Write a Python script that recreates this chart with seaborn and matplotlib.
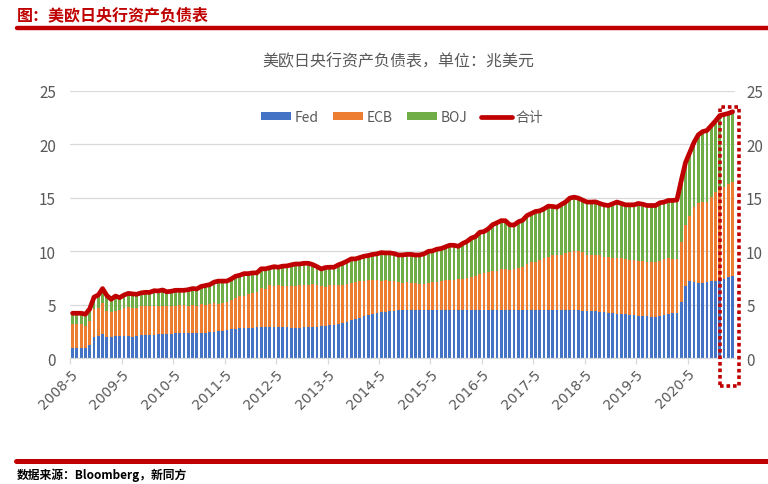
import matplotlib
matplotlib.use("Agg")
import matplotlib.pyplot as plt
import matplotlib.transforms as mtransforms
from matplotlib.patches import Patch, Rectangle
from matplotlib.lines import Line2D
import numpy as np
import pandas as pd
import seaborn as sns

# ---------------- data (USD trillion), monthly 2008-5 .. 2021-3 ----------------
fed = [
    0.95, 0.95, 0.95, 0.93, 1.25, 2.00, 2.10, 2.25, 1.95, 1.93, 2.05, 2.08,
    2.08, 2.05, 2.00, 2.07, 2.12, 2.15, 2.18, 2.20, 2.22, 2.24, 2.26, 2.28,
    2.30, 2.31, 2.32, 2.33, 2.33, 2.33, 2.35, 2.38, 2.40, 2.45, 2.50, 2.55,
    2.62, 2.70, 2.76, 2.82, 2.85, 2.85, 2.85, 2.87, 2.90, 2.90, 2.90, 2.88,
    2.88, 2.87, 2.87, 2.85, 2.85, 2.85, 2.86, 2.88, 2.90, 2.93, 2.97, 3.00,
    3.05, 3.12, 3.19, 3.28, 3.40, 3.52, 3.66, 3.78, 3.90, 4.01, 4.12, 4.20,
    4.28, 4.33, 4.37, 4.42, 4.45, 4.48, 4.50, 4.50, 4.49, 4.50, 4.50, 4.51,
    4.50, 4.49, 4.50, 4.51, 4.50, 4.49, 4.49, 4.50, 4.51, 4.50, 4.50, 4.49,
    4.50, 4.50, 4.51, 4.50, 4.49, 4.50, 4.50, 4.51, 4.50, 4.50, 4.49, 4.50,
    4.50, 4.50, 4.50, 4.50, 4.50, 4.50, 4.49, 4.49, 4.48, 4.47, 4.46, 4.44,
    4.40, 4.38, 4.36, 4.33, 4.28, 4.24, 4.20, 4.16, 4.12, 4.09, 4.06, 4.02,
    3.97, 3.93, 3.90, 3.85, 3.81, 3.90, 4.03, 4.10, 4.19, 4.22, 5.28, 6.70,
    7.19, 7.10, 7.00, 7.03, 7.15, 7.25, 7.25, 7.30, 7.40, 7.56, 7.72,
]
ecb = [
    2.24, 2.24, 2.22, 2.10, 2.19, 2.60, 2.55, 2.90, 2.43, 2.35, 2.39, 2.42,
    2.57, 2.75, 2.70, 2.63, 2.75, 2.70, 2.67, 2.70, 2.68, 2.66, 2.59, 2.57,
    2.60, 2.66, 2.65, 2.57, 2.67, 2.57, 2.68, 2.62, 2.66, 2.70, 2.56, 2.60,
    2.58, 2.77, 2.89, 2.96, 2.99, 3.15, 3.25, 3.28, 3.63, 3.57, 3.94, 3.90,
    3.96, 3.83, 3.85, 3.93, 3.93, 3.95, 3.98, 3.99, 4.04, 3.92, 3.75, 3.62,
    3.79, 3.68, 3.68, 3.59, 3.57, 3.51, 3.44, 3.41, 3.35, 3.27, 3.19, 3.14,
    2.97, 2.95, 2.88, 2.77, 2.65, 2.55, 2.60, 2.53, 2.53, 2.44, 2.41, 2.50,
    2.60, 2.66, 2.75, 2.78, 2.81, 2.81, 2.90, 2.90, 3.00, 3.10, 3.22, 3.38,
    3.44, 3.53, 3.60, 3.69, 3.80, 3.80, 3.78, 3.82, 3.94, 4.00, 4.30, 4.47,
    4.53, 4.69, 4.84, 5.00, 5.10, 5.10, 5.20, 5.32, 5.49, 5.53, 5.54, 5.46,
    5.29, 5.28, 5.30, 5.27, 5.22, 5.20, 5.17, 5.21, 5.25, 5.19, 5.16, 5.17,
    5.15, 5.19, 5.13, 5.12, 5.16, 5.22, 5.25, 5.27, 5.09, 5.06, 5.62, 5.77,
    6.11, 7.00, 7.50, 7.62, 7.50, 7.81, 8.25, 8.54, 8.60, 8.74, 8.78,
]
boj = [
    1.00, 1.00, 1.02, 1.07, 1.16, 1.10, 1.25, 1.35, 1.47, 1.22, 1.36, 1.15,
    1.25, 1.25, 1.30, 1.27, 1.23, 1.30, 1.30, 1.40, 1.38, 1.47, 1.35, 1.40,
    1.44, 1.37, 1.37, 1.50, 1.50, 1.57, 1.67, 1.78, 1.81, 1.95, 2.14, 2.05,
    2.00, 1.93, 2.00, 1.97, 2.06, 1.90, 1.87, 1.82, 1.82, 1.88, 1.61, 1.77,
    1.66, 1.90, 1.90, 1.94, 2.02, 2.00, 2.03, 2.00, 1.81, 1.71, 1.62, 1.85,
    1.66, 1.70, 1.85, 2.00, 2.09, 2.25, 2.18, 2.21, 2.28, 2.32, 2.39, 2.41,
    2.62, 2.56, 2.59, 2.59, 2.55, 2.62, 2.60, 2.67, 2.62, 2.71, 2.84, 2.97,
    2.93, 3.04, 3.00, 3.12, 3.25, 3.25, 3.07, 3.32, 3.40, 3.62, 3.65, 3.90,
    3.90, 4.07, 4.37, 4.47, 4.57, 4.55, 4.19, 4.12, 4.31, 4.40, 4.54, 4.56,
    4.69, 4.59, 4.63, 4.72, 4.59, 4.52, 4.68, 4.79, 5.00, 5.06, 4.97, 4.88,
    4.91, 4.94, 4.96, 4.87, 4.84, 4.84, 5.07, 5.23, 5.10, 5.06, 5.12, 5.15,
    5.35, 5.28, 5.25, 5.31, 5.31, 5.41, 5.32, 5.38, 5.47, 5.52, 5.70, 5.83,
    5.96, 6.10, 6.40, 6.55, 6.65, 6.69, 6.70, 6.86, 6.80, 6.60, 6.56,
]
tick_labels = ["2008-5", "2009-5", "2010-5", "2011-5", "2012-5", "2013-5", "2014-5",
               "2015-5", "2016-5", "2017-5", "2018-5", "2019-5", "2020-5"]
series_names = ["Fed", "ECB", "BOJ", "合计"]

# ---------------- styling ----------------
C_FED, C_ECB, C_BOJ, C_TOT = "#4472C4", "#ED7D31", "#70AD47", "#C00000"
GRAY = "#595959"
GRID = "#D9D9D9"

sns.set_theme(style="white")
plt.rcParams["font.family"] = ["Noto Sans CJK SC", "DejaVu Sans"]
plt.rcParams["axes.unicode_minus"] = False

n = len(fed)
idx = np.arange(n)
df = pd.DataFrame({"idx": idx, "Fed": fed, "ECB": ecb, "BOJ": boj})
df["s_fe"] = df["Fed"] + df["ECB"]
df["total"] = df["s_fe"] + df["BOJ"]

W, H = 768, 485
fig = plt.figure(figsize=(W / 100, H / 100), dpi=100)
ax = fig.add_axes([70 / W, 1 - 359 / H, (735 - 70) / W, (359 - 92) / H])

bw = 0.64
sns.barplot(data=df, x="idx", y="total", color=C_BOJ, saturation=1, width=bw,
            errorbar=None, linewidth=0, ax=ax)
sns.barplot(data=df, x="idx", y="s_fe", color=C_ECB, saturation=1, width=bw,
            errorbar=None, linewidth=0, ax=ax)
sns.barplot(data=df, x="idx", y="Fed", color=C_FED, saturation=1, width=bw,
            errorbar=None, linewidth=0, ax=ax)
sns.lineplot(data=df, x="idx", y="total", color=C_TOT, linewidth=3.4,
             ax=ax, zorder=5, solid_capstyle="round")

ax.set_xlim(-0.6, n - 0.45)
ax.set_ylim(0, 25)
yt = [0, 5, 10, 15, 20, 25]
ax.set_yticks(yt)
ax.set_yticklabels([str(v) for v in yt])
ax.set_axisbelow(True)
ax.yaxis.grid(True, color=GRID, linewidth=0.9)
ax.xaxis.grid(False)
for s in ["top", "right", "left"]:
    ax.spines[s].set_visible(False)
ax.spines["bottom"].set_color(GRID)
ax.spines["bottom"].set_linewidth(0.9)
ax.set_xlabel("")
ax.set_ylabel("")

ticks = [i * 12 - 0.5 for i in range(len(tick_labels))]
ax.set_xticks(ticks)
ax.set_xticklabels(tick_labels, rotation=45, ha="right", va="top",
                   rotation_mode="anchor", color=GRAY, fontsize=10,
                   family=["DejaVu Sans"])
offset = mtransforms.ScaledTranslation(4 / 100, -2 / 100, fig.dpi_scale_trans)
for lab in ax.get_xticklabels():
    lab.set_transform(lab.get_transform() + offset)
ax.tick_params(axis="x", bottom=True, length=4, width=0.9, color=GRID, pad=2)
ax.tick_params(axis="y", left=False, right=False, length=0, labelleft=True,
               labelright=False, labelsize=11, labelcolor=GRAY, pad=10)

# right-hand axis labels (same scale)
ax2 = ax.twinx()
ax2.set_ylim(ax.get_ylim())
ax2.set_yticks(yt)
ax2.set_yticklabels([str(v) for v in yt])
ax2.tick_params(axis="y", right=False, length=0, labelsize=11, labelcolor=GRAY, pad=8)
for s in ["top", "right", "left", "bottom"]:
    ax2.spines[s].set_visible(False)
ax2.grid(False)

# highlight box around the latest months
ax.add_patch(Rectangle((151.0, -2.6), 4.5, 26.1, fill=False, edgecolor=C_TOT,
                       linewidth=2.6, linestyle=(0, (1, 0.8)), clip_on=False, zorder=6))

# legend
handles = [Patch(facecolor=C_FED, edgecolor="none"),
           Patch(facecolor=C_ECB, edgecolor="none"),
           Patch(facecolor=C_BOJ, edgecolor="none"),
           Line2D([0], [0], color=C_TOT, linewidth=3.4)]
leg = fig.legend(handles, series_names, loc="center", ncol=4,
                 bbox_to_anchor=(402 / W, 1 - 118 / H), frameon=False,
                 fontsize=10, handlelength=2.2, handleheight=0.45,
                 handletextpad=0.25, columnspacing=1.0)
for t in leg.get_texts():
    t.set_color(GRAY)

# titles
fig.text(398 / W, 1 - 62 / H, "美欧日央行资产负债表，单位：兆美元", ha="center",
         va="center", fontsize=11.5, color=GRAY)
fig.text(17 / W, 1 - 15 / H, "图：美欧日央行资产负债表", ha="left", va="center",
         fontsize=11.5, color=C_TOT, fontweight="bold", style="italic")
fig.add_artist(Line2D([17 / W, 1.0], [1 - 29 / H, 1 - 29 / H], color=C_TOT,
                      linewidth=3.2, transform=fig.transFigure))
fig.add_artist(Line2D([16 / W, 1.0], [1 - 461.5 / H, 1 - 461.5 / H], color=C_TOT,
                      linewidth=3.6, transform=fig.transFigure))
fig.text(17 / W, 1 - 475 / H, "数据来源：Bloomberg，新同方", ha="left", va="center",
         fontsize=8.5, color="black", fontweight="bold")

fig.savefig("out.png", dpi=100)
